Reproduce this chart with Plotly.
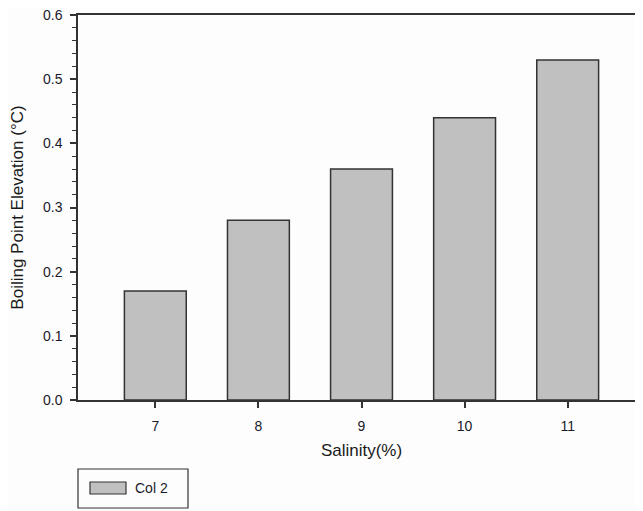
import plotly.graph_objects as go

categories = [7, 8, 9, 10, 11]
values = [0.17, 0.28, 0.36, 0.44, 0.53]
series_name = "Col 2"
x_title = "Salinity(%)"
y_title = "Boiling Point Elevation (°C)"

axis_color = "#333333"
font_family = "Arial, 'Liberation Sans', sans-serif"

# page offset of the figure inside the html body (default body margin)
OFF = 8
L, R, T, B = 78 - OFF, 6, 15 - OFF, 511 - (400 - OFF)
PW = 643 - L - R
PH = 511 - T - B

fig = go.Figure()
fig.add_trace(go.Bar(
    x=categories, y=values, name=series_name, width=0.6,
    marker=dict(color="#c0c0c0", line=dict(color="#333333", width=1.5)),
    showlegend=False,
))

fig.update_layout(
    width=643, height=511,
    margin=dict(l=L, r=R, t=T, b=B, autoexpand=False),
    paper_bgcolor="#fdfdfd", plot_bgcolor="#fdfdfd",
    font=dict(family=font_family, size=14, color="#1a1a2a"),
)
fig.update_xaxes(
    range=[6.25, 11.75], tickvals=categories, ticktext=[str(c) for c in categories],
    showline=True, linecolor=axis_color, linewidth=1.5, mirror=True,
    ticks="outside", ticklen=6, tickwidth=1.5, tickcolor=axis_color,
    ticklabelstandoff=6, ticklabeloverflow="allow",
    showgrid=False, zeroline=False,
    title=dict(text=x_title, font=dict(size=17, color="#1a1a1a"), standoff=12),
    tickfont=dict(size=14),
)
fig.update_yaxes(
    range=[0, 0.6], tickvals=[0, 0.1, 0.2, 0.3, 0.4, 0.5, 0.6],
    ticktext=["0.0", "0.1", "0.2", "0.3", "0.4", "0.5", "0.6"],
    showline=True, linecolor=axis_color, linewidth=1.5, mirror=False,
    ticks="outside", ticklen=6, tickwidth=1.5, tickcolor=axis_color,
    ticklabelstandoff=5, ticklabeloverflow="allow",
    minor=dict(dtick=0.02, ticks="outside", ticklen=4, tickwidth=1.2, tickcolor=axis_color),
    showgrid=False, zeroline=False,
    title=dict(text=y_title, font=dict(size=17, color="#1a1a1a"), standoff=15),
    tickfont=dict(size=14),
)

# Legend box drawn manually (page pixel positions converted to paper coords)
def px_x(px):
    return (px - OFF - L) / float(PW)
def px_y(py):
    return (511 - B - (py - OFF)) / float(PH)

fig.add_shape(type="rect", xref="paper", yref="paper",
              x0=px_x(78), x1=px_x(188), y0=px_y(508), y1=px_y(469),
              line=dict(color="#333333", width=1.2), fillcolor="rgba(0,0,0,0)")
fig.add_shape(type="rect", xref="paper", yref="paper",
              x0=px_x(90), x1=px_x(126), y0=px_y(494), y1=px_y(482),
              line=dict(color="#333333", width=1.2), fillcolor="#c0c0c0")
fig.add_annotation(xref="paper", yref="paper", x=px_x(133), y=px_y(488.5),
                   text=series_name, showarrow=False, xanchor="left", yanchor="middle",
                   font=dict(size=14, color="#1a1a2a"))

fig.write_html("out.html")
